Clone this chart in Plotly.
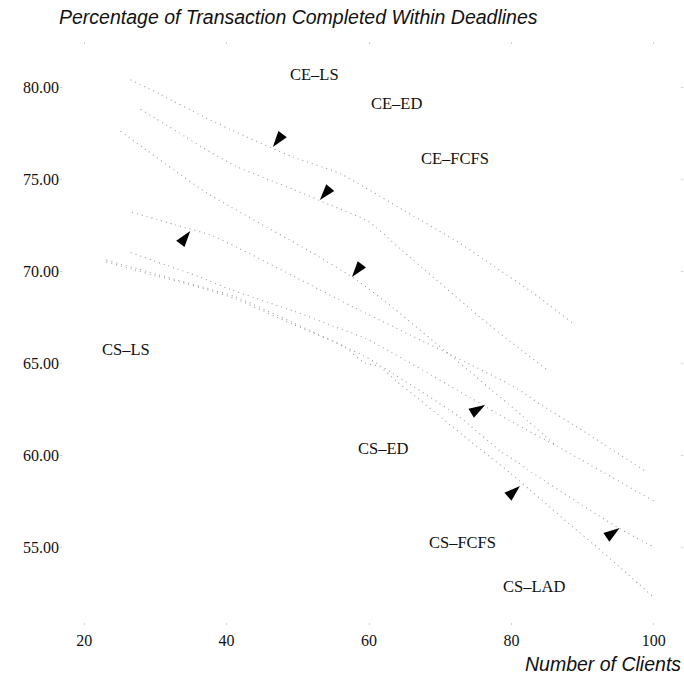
import plotly.graph_objects as go

# ---- data ----
ce_ls_x = [26.5, 30.7, 36.7, 40.5, 49.3, 55.9, 65.3, 72.8, 77.4, 82.7, 88.5]
ce_ls_y = [80.4, 79.6, 78.4, 77.7, 76.2, 75.3, 73.2, 71.5, 70.3, 68.9, 67.2]

ce_ed_x = [27.9, 34.2, 36.7, 41.3, 49.6, 54.5, 59.9, 64.4, 76.8, 85.1]
ce_ed_y = [78.8, 77.3, 76.7, 75.7, 74.4, 73.6, 72.7, 71.2, 67.1, 64.6]

ce_fcfs_x = [25.1, 29.0, 32.6, 37.4, 52.0, 58.3, 63.4, 71.5, 74.9, 77.3, 79.5, 81.6, 86.3]
ce_fcfs_y = [77.6, 76.5, 75.5, 74.2, 71.0, 69.5, 68.0, 65.4, 64.3, 63.5, 62.8, 62.1, 60.5]

cs_ls_x = [26.7, 32.9, 38.1, 53.0, 58.0, 80.4, 84.3, 89.3, 98.9]
cs_ls_y = [73.2, 72.5, 71.9, 69.0, 68.0, 63.7, 62.7, 61.5, 59.1]

cs_ed_x = [26.5, 31.7, 36.1, 40.5, 49.6, 55.0, 59.7, 74.3, 77.8, 82.0, 86.3, 100.0]
cs_ed_y = [71.0, 70.3, 69.7, 69.0, 67.8, 67.0, 66.3, 63.1, 62.3, 61.4, 60.5, 57.5]

cs_fcfs_x = [23.1, 26.7, 30.4, 33.5, 37.1, 41.2, 49.3, 53.0, 56.5, 59.4, 61.5, 63.9,
             66.5, 73.1, 77.0, 79.9, 82.6, 84.4, 88.6, 91.4, 96.4, 99.9]
cs_fcfs_y = [70.5, 70.1, 69.7, 69.4, 69.0, 68.5, 67.1, 66.5, 65.9, 65.0, 64.8, 64.0,
             63.2, 61.1, 59.9, 59.0, 58.1, 57.5, 56.1, 55.2, 53.5, 52.3]

cs_lad_x = [23.1, 30.4, 41.2, 49.3, 56.5, 59.2, 60.6, 72.6, 78.5, 80.9, 82.3, 95.2, 100.0]
cs_lad_y = [70.6, 69.8, 68.6, 67.2, 65.9, 65.4, 65.1, 62.1, 60.2, 59.6, 59.2, 56.0, 55.0]

series_names = ["CE–LS", "CE–ED", "CE–FCFS", "CS–LS", "CS–ED", "CS–FCFS", "CS–LAD"]
series_x = [ce_ls_x, ce_ed_x, ce_fcfs_x, cs_ls_x, cs_ed_x, cs_fcfs_x, cs_lad_x]
series_y = [ce_ls_y, ce_ed_y, ce_fcfs_y, cs_ls_y, cs_ed_y, cs_fcfs_y, cs_lad_y]

# curve labels (text position) and arrow-head tips / directions
label_x = [52.4, 63.9, 72.1, 25.9, 62.0, 73.1, 83.2]
label_y = [80.7, 79.13, 76.14, 65.76, 60.33, 55.22, 52.83]
arrow_x = [46.5, 53.1, 57.6, 34.9, 76.3, 81.2, 95.2]
arrow_y = [76.74, 73.86, 69.67, 72.17, 62.72, 58.32, 56.03]
arrow_angle = [217, 220, 218, 38, 59, 48, 55]

x_ticks = [20, 40, 60, 80, 100]
y_ticks = [55, 60, 65, 70, 75, 80]
y_tick_text = ["55.00", "60.00", "65.00", "70.00", "75.00", "80.00"]

SERIF = "Liberation Serif, Times New Roman, serif"
SANS = "Liberation Sans, Arial, sans-serif"

fig = go.Figure()
for name, xs, ys in zip(series_names, series_x, series_y):
    fig.add_trace(go.Scatter(
        x=xs, y=ys, mode="lines", name=name, showlegend=False,
        line=dict(color="#9c9c9c", width=1.1, dash="1px,4px", shape="spline", smoothing=0.6),
        hoverinfo="skip"))

fig.add_trace(go.Scatter(
    x=arrow_x, y=arrow_y, mode="markers", showlegend=False, hoverinfo="skip",
    marker=dict(symbol="arrow", size=17, angle=arrow_angle, color="black",
                line=dict(width=0))))

for t, x, y in zip(series_names, label_x, label_y):
    fig.add_annotation(x=x, y=y, text=t, showarrow=False,
                       font=dict(family=SERIF, size=16.5, color="#111"))

fig.add_annotation(xref="paper", yref="paper", x=-0.005, y=1.0, yshift=25,
                   xanchor="left", yanchor="middle", showarrow=False,
                   text="<i>Percentage of Transaction Completed Within Deadlines</i>",
                   font=dict(family=SANS, size=19.5, color="#111"))
fig.add_annotation(xref="paper", yref="paper", x=1.0, y=0, yshift=-39,
                   xanchor="right", yanchor="middle", showarrow=False,
                   text="<i>Number of Clients</i>",
                   font=dict(family=SANS, size=19.5, color="#111"))

fig.update_xaxes(range=[16.6, 104.1], tickvals=x_ticks, ticktext=[str(v) for v in x_ticks],
                 showgrid=False, zeroline=False, showline=False,
                 ticks="inside", ticklen=2, tickcolor="#d0d0d0", mirror="ticks",
                 ticklabelstandoff=4,
                 tickfont=dict(family=SERIF, size=16, color="#111"))
fig.update_yaxes(range=[50.76, 82.45], tickvals=y_ticks, ticktext=y_tick_text,
                 showgrid=False, zeroline=False, showline=False,
                 ticks="inside", ticklen=2, tickcolor="#d0d0d0", mirror="ticks",
                 tickfont=dict(family=SERIF, size=16, color="#111"))

fig.update_layout(width=684, height=676, margin=dict(l=60, r=1, t=42, b=51),
                  plot_bgcolor="white", paper_bgcolor="white")

fig.write_html("out.html")
